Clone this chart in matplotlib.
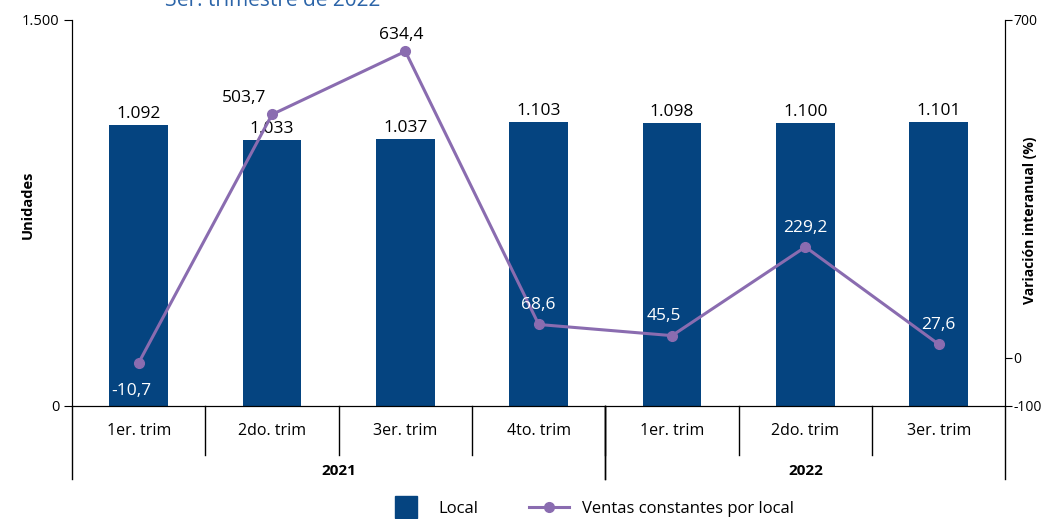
import numpy as np
import matplotlib.pyplot as plt
from matplotlib.lines import Line2D

plt.rcParams["font.family"] = ["Open Sans", "DejaVu Sans"]

# data
quarters = ["1er. trim", "2do. trim", "3er. trim", "4to. trim",
            "1er. trim", "2do. trim", "3er. trim"]
years = ["2021", "2022"]
year_span = [(0, 3), (4, 6)]  # first and last quarter index of each year
locales = [1092, 1033, 1037, 1103, 1098, 1100, 1101]
ventas = [-10.7, 503.7, 634.4, 68.6, 45.5, 229.2, 27.6]

bar_color = "#054480"
line_color = "#8a6cb0"


def fmt_int(v):
    return f"{v:,}".replace(",", ".")


def fmt_dec(v):
    return f"{v:.1f}".replace(".", ",")


fig = plt.figure(figsize=(10.44, 5.19), dpi=100)
ax = fig.add_axes([0.069, 0.218, 0.894, 0.744])
ax2 = ax.twinx()

x = np.arange(len(quarters))
ax.bar(x, locales, width=0.44, color=bar_color, zorder=2)
for xi, v in zip(x, locales):
    ax.text(xi, v + 12, fmt_int(v), ha="center", va="bottom", fontsize=12.5)

ax.set_xlim(-0.5, len(quarters) - 0.5)
ax.set_ylim(0, 1500)
ax.set_yticks([0, 1500], ["0", "1.500"], fontsize=10.5)
ax.set_xticks(x, quarters, fontsize=11.5)
ax.tick_params(axis="x", length=0, pad=12)
ax.tick_params(axis="y", length=6, pad=3)
ax.spines["top"].set_visible(False)

# line on the secondary axis
ax2.plot(x, ventas, color=line_color, lw=2.2, marker="o", ms=7, zorder=3)
ax2.set_ylim(-100, 700)
ax2.set_yticks([-100, 0, 700], ["-100", "0", "700"], fontsize=10)
ax2.tick_params(axis="y", length=5, pad=1)
ax2.spines["top"].set_visible(False)
ax.set_zorder(1)
ax2.set_zorder(2)
ax.patch.set_visible(False)

# labels of the line: offset in points, colour
lab_style = [(-5, -20, "white"), (-20, 12, "black"), (-3, 12, "black"),
             (0, 14, "white"), (-6, 14, "white"), (0, 14, "white"),
             (0, 14, "white")]
for xi, v, (dx, dy, c) in zip(x, ventas, lab_style):
    ax2.annotate(fmt_dec(v), (xi, v), xytext=(dx, dy), textcoords="offset points",
                 ha="center", va="center", fontsize=12.5, color=c)

# category / year separators below the axis
tr = ax.get_xaxis_transform()
for b in np.arange(0.5, len(quarters) - 1):
    ax.plot([b, b], [0, -0.127], transform=tr, color="black", lw=1, clip_on=False)
for (a, b), yr in zip(year_span, years):
    ax.plot([a - 0.5, a - 0.5], [0, -0.19], transform=tr, color="black", lw=1, clip_on=False)
    ax.plot([b + 0.5, b + 0.5], [0, -0.19], transform=tr, color="black", lw=1, clip_on=False)
    ax.text((a + b) / 2, -0.168, yr, transform=tr, ha="center", va="center",
            fontsize=11, fontweight="bold")

fig.text(0.027, 0.605, "Unidades", rotation=90, ha="center", va="center",
         fontsize=10.5, fontweight="bold")
fig.text(0.987, 0.575, "Variación interanual (%)", rotation=90, ha="center",
         va="center", fontsize=10, fontweight="bold")

fig.text(0.158, 1.0, "3er. trimestre de 2022", ha="left", va="center",
         fontsize=15, color="#2b64a8")

handles = [Line2D([], [], color=bar_color, marker="s", ms=16, ls="none"),
           Line2D([], [], color=line_color, lw=2.2, marker="o", ms=7)]
fig.legend(handles, ["Local", "Ventas constantes por local"], loc="lower center",
           bbox_to_anchor=(0.565, -0.025), ncol=2, frameon=False, fontsize=12,
           handlelength=2.4, columnspacing=3)

fig.savefig("out.png", dpi=100)
